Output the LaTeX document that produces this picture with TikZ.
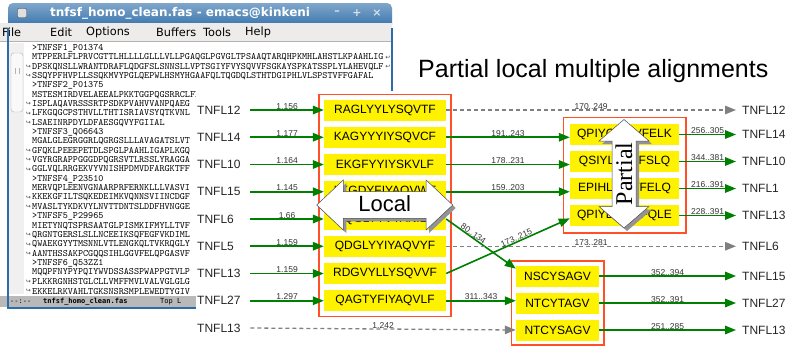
\documentclass[tikz,border=0pt]{standalone}
\usepackage{fontspec}
\setmainfont{Liberation Sans}
\newfontfamily\dvsans{DejaVu Sans}
\newfontfamily\dvmono{DejaVu Sans Mono}
\newfontfamily\tmsfont{Liberation Serif}
\usetikzlibrary{arrows.meta, fit, positioning}

\definecolor{hitgreen}{RGB}{0,128,0}
\definecolor{grpred}{RGB}{255,80,40}
\definecolor{winblue}{RGB}{44,108,168}
\definecolor{menugray}{RGB}{237,236,235}

\begin{document}
\begin{tikzpicture}[x=1pt, y=-1pt,
    lab/.style={anchor=west, inner sep=0pt, text width=53pt, align=left, text=black!85, font=\fontsize{12}{14}\selectfont},
    rlab/.style={anchor=west, inner sep=0pt, inner xsep=6pt, text=black!85, font=\fontsize{12}{14}\selectfont},
    seq/.style={fill=yellow, inner sep=0pt, minimum height=21pt, font=\fontsize{12}{14}\selectfont},
    grp/.style={draw=grpred, line width=1.6pt},
    hit/.style={draw=hitgreen, line width=1.6pt, -{Triangle[length=11pt,width=8.5pt]}},
    miss/.style={draw=gray, line width=1.3pt, dash pattern=on 4pt off 3pt, -{Triangle[length=11pt,width=8.5pt]}},
    num/.style={anchor=south, inner sep=0pt, text=black!80, font=\fontsize{8.5}{9}\selectfont},
    emline/.style={anchor=west, inner sep=0pt, font=\ttfamily\fontsize{9.7}{10}\selectfont},
    fringe/.style={inner sep=0pt, text=black!75, font=\dvsans\fontsize{6}{6}\selectfont}]
\useasboundingbox[fill=white] (0,0) rectangle (786,346);

% emacs window
\shade[top color=winblue!60!white, bottom color=winblue, rounded corners=5pt] (8,3) rectangle (392,30);
\node[fill=gray!25, draw=gray!60!black, minimum size=9pt, inner sep=0pt, rounded corners=1pt] (wicon) at (22,13) {};
\node[anchor=west, inner sep=0pt, text=white, font=\dvsans\bfseries\fontsize{12}{14}\selectfont] (wtitle) at (50,13) {tnfsf\_homo\_clean.fas - emacs@kinkeni};
\foreach \x/\g [count=\k] in {337/{–},357/{+},377/{×}}
  \node[inner sep=0pt, text=white!80!winblue, font=\dvsans\bfseries\fontsize{11}{12}\selectfont] (wb\k) at (\x,13) {\g};
\fill[menugray] (0,23) rectangle (392,41);
\foreach \x/\m [count=\k] in {2/File,50/Edit,86/Options,156/Buffers,203/Tools,245/Help}
  \node[anchor=west, inner sep=0pt, font=\dvsans\fontsize{11.3}{13}\selectfont] (menu\k) at (\x,32) {\m};
\fill[white] (0,41) rectangle (392,296);
\draw[gray!60] (0,41) -- (392,41);
\fill[gray!12] (9,43) rectangle (24,294);
\draw[gray!60, fill=gray!5, rounded corners=3pt] (11,53) rectangle (23,112);
\draw[gray!60] (15,68) -- (15,74) (19,68) -- (19,74);
\foreach \t [count=\n from 0] in {{>TNFSF1\_P01374},
    MTPPERLFLPRVCGTTLHLLLLGLLLVLLPGAQGLPGVGLTPSAAQTARQHPKMHLAHSTLKPAAHLIG,
    DPSKQNSLLWRANTDRAFLQDGFSLSNNSLLVPTSGIYFVYSQVVFSGKAYSPKATSSPLYLAHEVQLF,
    SSQYPFHVPLLSSQKMVYPGLQEPWLHSMYHGAAFQLTQGDQLSTHTDGIPHLVLSPSTVFFGAFAL,
    {>TNFSF2\_P01375},
    MSTESMIRDVELAEEALPKKTGGPQGSRRCLFLSLFSFLIVAGATTLFCLLHFGVIGPQREEFPRDLS,
    ISPLAQAVRSSSRTPSDKPVAHVVANPQAEG,
    LFKGQGCPSTHVLLTHTISRIAVSYQTKVNL,
    LSAEINRPDYLDFAESGQVYFGIIAL,
    {>TNFSF3\_Q06643},
    MGALGLEGRGGRLQGRGSLLLAVAGATSLVT,
    GFQKLPEEEPETDLSPGLPAAHLIGAPLKGQ,
    VGYRGRAPPGGGDPQGRSVTLRSSLYRAGGA,
    GGLVQLRRGEKVYVNISHPDMVDFARGKTFF,
    {>TNFSF4\_P23510},
    MERVQPLEENVGNAARPRFERNKLLLVASVI,
    KKEKGFILTSQKEDEIMKVQNNSVIINCDGF,
    MVASLTYKDKVYLNVTTDNTSLDDFHVNGGE,
    {>TNFSF5\_P29965},
    MIETYNQTSPRSAATGLPISMKIFMYLLTVF,
    QRGNTGERSLSLLNCEEIKSQFEGFVKDIML,
    QWAEKGYYTMSNNLVTLENGKQLTVKRQGLY,
    AANTHSSAKPCGQQSIHLGGVFELQPGASVF,
    {>TNFSF6\_Q53ZZ1},
    MQQPFNYPYPQIYWVDSSASSPWAPPGTVLP,
    PLKKRGNHSTGLCLLVMFFMVLVALVGLGLG,
    EKKELRKVAHLTGKSNSRSMPLEWEDTYGIV}
  \node[emline] (e\n) at (32,{48+9.35*\n}) {\t};
\foreach \n in {2,3,6,7,8,11,12,13,16,17,20,21,22,25,26}
  \node[fringe] (lf\n) at (28.5,{48+9.35*\n}) {↪};
\foreach \n in {1,2}
  \node[fringe] (rf\n) at (388,{48+9.35*\n}) {↩};
\fill[gray!55] (0,296) rectangle (392,307);
\node[anchor=west, inner sep=0pt, font=\dvmono\fontsize{7}{8}\selectfont] (ml1) at (10,302) {-{}-:-{}-};
\node[anchor=west, inner sep=0pt, font=\dvmono\bfseries\fontsize{7}{8}\selectfont] (ml2) at (43,302) {tnfsf\_homo\_clean.fas};
\node[anchor=west, inner sep=0pt, font=\dvmono\fontsize{7}{8}\selectfont] (ml3) at (160,302) {Top L};
\draw[winblue, line width=1.5pt] (8,28) -- (8,308) -- (392,308) -- (392,28);
\fill[white] (196,91) rectangle (786,346);

% title
\node[anchor=base west, inner sep=0pt, font=\fontsize{25}{30}\selectfont] (title) at (418,77) {Partial local multiple alignments};

% labels and local segments
\foreach \t [count=\i from 0] in {TNFL12,TNFL14,TNFL10,TNFL15,TNFL6,TNFL5,TNFL13,TNFL27,TNFL13}
  \node[lab] (l\i) at (197,{110+27.25*\i}) {\t};
\foreach \s [count=\i from 0] in {RAGLYYLYSQVTF,KAGYYYIYSQVCF,EKGFYYIYSKVLF,LKGDYFIYAQVWF,KQGLYYVYANILF,QDGLYYIYAQVYF,RDGVYLLYSQVVF,QAGTYFIYAQVLF}
  \node[seq, minimum width=122pt] (a\i) at (385,{110+27.25*\i}) {\s};
\node[grp, fit=(a0)(a7), inner sep=5pt] (left) {};

\foreach \s [count=\i from 0] in {QPIYGQGVFELK,QSIYLGAVFSLQ,EPIHLGGVFELQ,QPIYEGGVFQLE}
  \node[seq, minimum width=109pt] (p\i) at (624.5,{134.5+27*\i}) {\s};
\node[grp, fit=(p0)(p3), inner sep=6.5pt] (part) {};

\foreach \s [count=\i from 0] in {NSCYSAGV,NTCYTAGV,NTCYSAGV}
  \node[seq, minimum width=83pt] (b\i) at (557.5,{276+27*\i}) {\s};
\node[grp, fit=(b0)(b2), inner sep=4.5pt] (bot) {};

\node[rlab] (r0) at (736,110) {TNFL12};
\node[rlab] (r1) at (736,134.5) {TNFL14};
\node[rlab] (r2) at (736,161.5) {TNFL10};
\node[rlab] (r3) at (736,188.5) {TNFL1};
\node[rlab] (r4) at (736,215.5) {TNFL13};
\node[rlab] (r5) at (736,246.25) {TNFL6};
\node[rlab] (r6) at (736,276) {TNFL15};
\node[rlab] (r7) at (736,303) {TNFL27};
\node[rlab] (r8) at (736,330) {TNFL13};

% connectors
\foreach \i/\v in {0/1.156,1/1.177,2/1.164,3/1.145,4/1.66,5/1.159,6/1.159,7/1.297}
  \draw[hit] (l\i.east) -- node[num] (n\i) {\v} (a\i.west);
\draw[miss] (l8.east) -- node[num] (n8) {1.242} (b2.west);
\draw[miss] (a0.east) -- node[num] (c0) {170..249} (r0.west);
\draw[hit] (a1.east) -- node[num] (c1) {191..243} (a1.east -| p0.west);
\draw[hit] (a2.east) -- node[num] (c2) {178..231} (a2.east -| p1.west);
\draw[hit] (a3.east) -- node[num] (c3) {159..203} (a3.east -| p2.west);
\draw[hit] (a4.east) -- node[num, sloped, pos=0.36] (c4) {80..134} (b0.170);
\draw[miss] (a5.east) -- node[num] (c5) {173..281} (r5.west);
\draw[hit] (a6.east) -- node[num, sloped, pos=0.58] (c6) {173..215} (p3.-177);
\draw[hit] (a7.east) -- node[num] (c7) {311..343} (a7.east -| b1.west);
\draw[hit] (p0.east) -- node[num] (d0) {256..305} (r1.west);
\draw[hit] (p1.east) -- node[num] (d1) {344..381} (r2.west);
\draw[hit] (p2.east) -- node[num] (d2) {216..391} (r3.west);
\draw[hit] (p3.east) -- node[num] (d3) {228..391} (r4.west);
\draw[hit] (b0.east) -- node[num] (d4) {352..394} (r6.west);
\draw[hit] (b1.east) -- node[num] (d5) {352..391} (r7.west);
\draw[hit] (b2.east) -- node[num] (d6) {251..285} (r8.west);

% callout arrows
\fill[gray!85, shift={(3,3)}] (316.7,205) -- (343.3,180) -- (343.3,191.7) -- (426.1,191.7) -- (426.1,180) -- (452.7,205) -- (426.1,230) -- (426.1,218.3) -- (343.3,218.3) -- (343.3,230) -- cycle;
\filldraw[fill=white, draw=black!70, line width=0.5pt] (316.7,205) -- (343.3,180) -- (343.3,191.7) -- (426.1,191.7) -- (426.1,180) -- (452.7,205) -- (426.1,230) -- (426.1,218.3) -- (343.3,218.3) -- (343.3,230) -- cycle;
\node[inner sep=0pt, font=\fontsize{22}{24}\selectfont] (local) at (384.7,204) {Local};
\fill[gray!85, shift={(3,3)}] (624,119.5) -- (649,141) -- (636,141) -- (636,206.5) -- (649,206.5) -- (624,228) -- (599,206.5) -- (612,206.5) -- (612,141) -- (599,141) -- cycle;
\filldraw[fill=white, draw=black!70, line width=0.5pt] (624,119.5) -- (649,141) -- (636,141) -- (636,206.5) -- (649,206.5) -- (624,228) -- (599,206.5) -- (612,206.5) -- (612,141) -- (599,141) -- cycle;
\node[inner sep=0pt, rotate=90, font=\tmsfont\fontsize{24}{26}\selectfont] (partial) at (624,174) {Partial};
\end{tikzpicture}
\end{document}
